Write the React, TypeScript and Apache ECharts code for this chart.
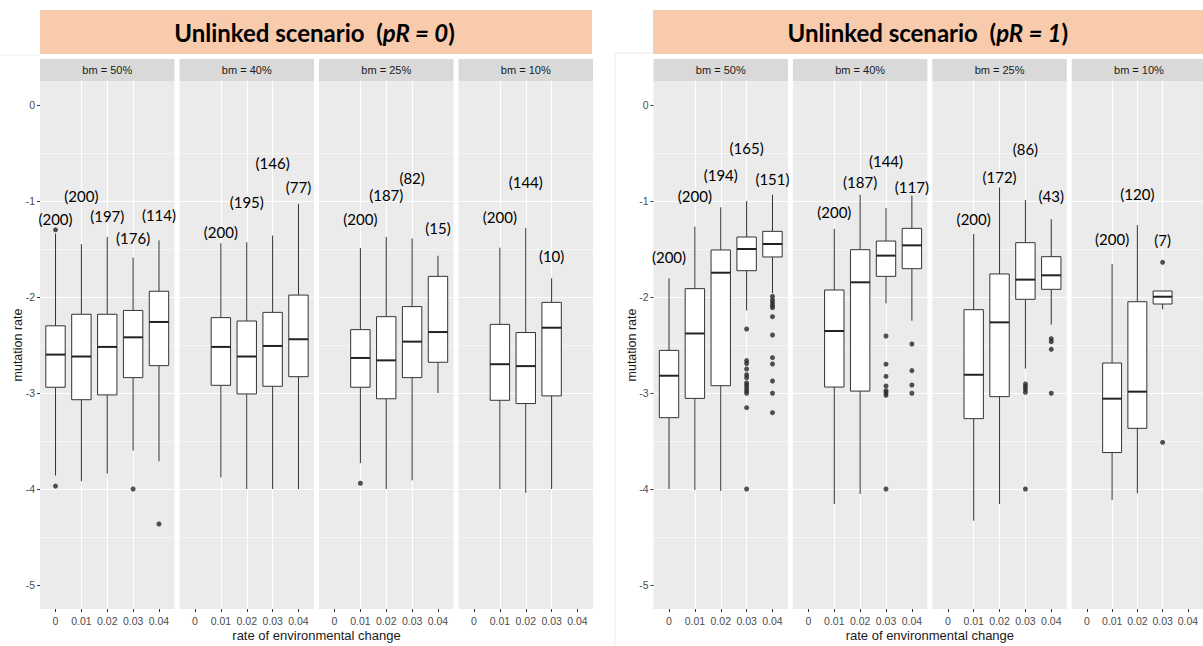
import React, { useEffect, useRef } from 'react';
import * as echarts from 'echarts';

// ---------- data ----------
const CATEGORIES = ['0', '0.01', '0.02', '0.03', '0.04'];
const FACETS = ['bm = 50%', 'bm = 40%', 'bm = 25%', 'bm = 10%'];
const SCENARIO_PR = ['0', '1'];
const Y_TICKS = [-5, -4, -3, -2, -1, 0];
const X_TICKS = [0, 1, 2, 3, 4];

// box stats: [categoryIndex, lowerWhisker, Q1, median, Q3, upperWhisker]
const pr0_bm50_boxes = [
  [0, -3.86, -2.94, -2.6, -2.3, -1.34],
  [1, -3.92, -3.07, -2.62, -2.18, -1.45],
  [2, -3.84, -3.02, -2.52, -2.18, -1.375],
  [3, -3.6, -2.84, -2.42, -2.14, -1.59],
  [4, -3.71, -2.715, -2.26, -1.94, -1.41],
];
const pr0_bm50_outliers = [[0, -1.3], [0, -3.97], [3, -4.0], [4, -4.365]];
const pr0_bm50_counts = [[0, -1.19, 200], [1, -0.944, 200], [2, -1.16, 197], [3, -1.39, 176], [4, -1.146, 114]];

const pr0_bm40_boxes = [
  [1, -3.88, -2.92, -2.52, -2.215, -1.44],
  [2, -4.0, -3.01, -2.62, -2.25, -1.43],
  [3, -4.0, -2.93, -2.51, -2.16, -1.36],
  [4, -4.0, -2.83, -2.44, -1.98, -1.03],
];
const pr0_bm40_outliers: number[][] = [];
const pr0_bm40_counts = [[1, -1.32, 200], [2, -1.007, 195], [3, -0.6, 146], [4, -0.85, 77]];

const pr0_bm25_boxes = [
  [1, -3.73, -2.94, -2.635, -2.34, -1.49],
  [2, -4.0, -3.06, -2.66, -2.205, -1.375],
  [3, -3.91, -2.84, -2.465, -2.1, -1.39],
  [4, -3.0, -2.68, -2.365, -1.785, -1.57],
];
const pr0_bm25_outliers = [[1, -3.94]];
const pr0_bm25_counts = [[1, -1.19, 200], [2, -0.94, 187], [3, -0.76, 82], [4, -1.285, 15]];

const pr0_bm10_boxes = [
  [1, -4.0, -3.076, -2.7, -2.285, -1.486],
  [2, -4.04, -3.11, -2.72, -2.37, -1.28],
  [3, -4.0, -3.03, -2.32, -2.056, -1.805],
];
const pr0_bm10_outliers: number[][] = [];
const pr0_bm10_counts = [[1, -1.163, 200], [2, -0.806, 144], [3, -1.57, 10]];

const pr1_bm50_boxes = [
  [0, -4.0, -3.257, -2.82, -2.556, -1.806],
  [1, -4.01, -3.056, -2.38, -1.913, -1.267],
  [2, -4.02, -2.924, -1.747, -1.51, -1.066],
  [3, -2.14, -1.726, -1.5, -1.375, -1.0],
  [4, -1.96, -1.583, -1.448, -1.316, -0.934],
];
const pr1_bm50_outliers = [
  [3, -2.333], [3, -2.663], [3, -2.694], [3, -2.75], [3, -2.81], [3, -2.84], [3, -2.896],
  [3, -2.92], [3, -2.948], [3, -2.976], [3, -3.003], [3, -3.153], [3, -4.0],
  [4, -1.993], [4, -2.031], [4, -2.059], [4, -2.087], [4, -2.111], [4, -2.205], [4, -2.396],
  [4, -2.632], [4, -2.698], [4, -2.875], [4, -3.003], [4, -3.205],
];
const pr1_bm50_counts = [[0, -1.587, 200], [1, -0.944, 200], [2, -0.73, 194], [3, -0.45, 165], [4, -0.77, 151]];

const pr1_bm40_boxes = [
  [1, -4.156, -2.938, -2.354, -1.927, -1.29],
  [2, -4.052, -2.98, -1.847, -1.507, -0.934],
  [3, -2.066, -1.785, -1.569, -1.417, -1.073],
  [4, -2.247, -1.705, -1.462, -1.285, -0.944],
];
const pr1_bm40_outliers = [
  [3, -2.406], [3, -2.7], [3, -2.826], [3, -2.927], [3, -2.976], [3, -2.997], [3, -3.024], [3, -4.0],
  [4, -2.49], [4, -2.767], [4, -2.917], [4, -3.003],
];
const pr1_bm40_counts = [[1, -1.11, 200], [2, -0.806, 187], [3, -0.587, 144], [4, -0.85, 117]];

const pr1_bm25_boxes = [
  [1, -4.33, -3.267, -2.81, -2.132, -1.344],
  [2, -4.156, -3.038, -2.264, -1.76, -0.86],
  [3, -2.746, -2.024, -1.819, -1.434, -0.99],
  [4, -2.288, -1.92, -1.774, -1.58, -1.19],
];
const pr1_bm25_outliers = [
  [3, -2.906], [3, -2.934], [3, -2.962], [3, -2.993], [3, -4.0],
  [4, -2.434], [4, -2.465], [4, -2.545], [4, -3.003],
];
const pr1_bm25_counts = [[1, -1.19, 200], [2, -0.753, 172], [3, -0.462, 86], [4, -0.948, 43]];

const pr1_bm10_boxes = [
  [1, -4.115, -3.62, -3.059, -2.6875, -1.656],
  [2, -4.045, -3.368, -2.986, -2.049, -1.25],
  [3, -2.128, -2.073, -1.997, -1.9375, -1.9375],
];
const pr1_bm10_outliers = [[3, -1.639], [3, -3.514]];
const pr1_bm10_counts = [[1, -1.396, 200], [2, -0.927, 120], [3, -1.406, 7]];

const BOXES = [
  [pr0_bm50_boxes, pr0_bm40_boxes, pr0_bm25_boxes, pr0_bm10_boxes],
  [pr1_bm50_boxes, pr1_bm40_boxes, pr1_bm25_boxes, pr1_bm10_boxes],
];
const OUTLIERS = [
  [pr0_bm50_outliers, pr0_bm40_outliers, pr0_bm25_outliers, pr0_bm10_outliers],
  [pr1_bm50_outliers, pr1_bm40_outliers, pr1_bm25_outliers, pr1_bm10_outliers],
];
const COUNTS = [
  [pr0_bm50_counts, pr0_bm40_counts, pr0_bm25_counts, pr0_bm10_counts],
  [pr1_bm50_counts, pr1_bm40_counts, pr1_bm25_counts, pr1_bm10_counts],
];

// ---------- layout ----------
const PANEL_LEFT = [40, 653.5];
const PANEL_STEP = [139.5, 139.4];
const PANEL_W = 134.5;
const PANEL_TOP = 81;
const PANEL_H = 528;
const STRIP_TOP = 59;
const BANNER = [
  { x: 40, w: 552 },
  { x: 653, w: 552 },
];

const AXIS_FONT = 'Liberation Sans, Arial, sans-serif';
const LABEL_FONT = 'Lato, "Open Sans", sans-serif';

function isIntLike(v: number) {
  return Math.abs(v - Math.round(v)) < 1e-6;
}

function renderBox(params: any, api: any) {
  const x = api.value(0);
  const lo = api.coord([x, api.value(1)]);
  const q1 = api.coord([x, api.value(2)]);
  const md = api.coord([x, api.value(3)]);
  const q3 = api.coord([x, api.value(4)]);
  const hi = api.coord([x, api.value(5)]);
  const w = api.size([0.75, 0])[0];
  const stroke = '#333333';
  const children: any[] = [];
  if (lo[1] - q1[1] > 0.3) {
    children.push({ type: 'line', shape: { x1: lo[0], y1: q1[1], x2: lo[0], y2: lo[1] }, style: { stroke, lineWidth: 1 } });
  }
  if (q3[1] - hi[1] > 0.3) {
    children.push({ type: 'line', shape: { x1: hi[0], y1: hi[1], x2: hi[0], y2: q3[1] }, style: { stroke, lineWidth: 1 } });
  }
  children.push({
    type: 'rect',
    shape: { x: q3[0] - w / 2, y: q3[1], width: w, height: q1[1] - q3[1] },
    style: { fill: '#ffffff', stroke, lineWidth: 1 },
  });
  children.push({
    type: 'line',
    shape: { x1: md[0] - w / 2, y1: md[1], x2: md[0] + w / 2, y2: md[1] },
    style: { stroke: '#222222', lineWidth: 2 },
  });
  return { type: 'group', children };
}

function buildOption() {
  const grid: any[] = [];
  const xAxis: any[] = [];
  const yAxis: any[] = [];
  const series: any[] = [];
  const graphic: any[] = [];

  for (let s = 0; s < 2; s++) {
    // banner
    graphic.push({
      type: 'rect',
      shape: { x: BANNER[s].x, y: 10, width: BANNER[s].w, height: 44 },
      style: { fill: '#F8CBAD' },
      silent: true,
    });
    const bannerFont = { fontFamily: 'Lato', fontWeight: 'bold', fontSize: 24, fill: '#000', color: '#000' };
    graphic.push({
      type: 'text',
      x: PANEL_LEFT[s] + (PANEL_STEP[s] * 3 + PANEL_W) / 2 - 2,
      y: 32,
      style: {
        text: '{n|Unlinked scenario  (}{i|pR = ' + SCENARIO_PR[s] + '}{n|)}',
        rich: {
          n: { ...bannerFont },
          i: { ...bannerFont, fontStyle: 'italic' },
        },
        align: 'center',
        verticalAlign: 'middle',
        textAlign: 'center',
        textVerticalAlign: 'middle',
      },
      silent: true,
    });

    // axis titles
    graphic.push({
      type: 'text',
      x: PANEL_LEFT[s] + (PANEL_STEP[s] * 3 + PANEL_W) / 2,
      y: 635,
      style: {
        text: 'rate of environmental change',
        font: '13px ' + AXIS_FONT,
        fill: '#1A1A1A',
        align: 'center', verticalAlign: 'middle', textAlign: 'center', textVerticalAlign: 'middle',
      },
      silent: true,
    });
    graphic.push({
      type: 'text',
      x: PANEL_LEFT[s] - 22,
      y: PANEL_TOP + PANEL_H / 2,
      rotation: Math.PI / 2,
      style: {
        text: 'mutation rate',
        font: '12.5px ' + AXIS_FONT,
        fill: '#1A1A1A',
        align: 'center', verticalAlign: 'middle', textAlign: 'center', textVerticalAlign: 'middle',
      },
      silent: true,
    });

    for (let f = 0; f < 4; f++) {
      const idx = s * 4 + f;
      const left = PANEL_LEFT[s] + f * PANEL_STEP[s];
      const first = f === 0;

      // strip
      graphic.push({
        type: 'rect',
        shape: { x: left, y: STRIP_TOP, width: PANEL_W, height: PANEL_TOP - STRIP_TOP },
        style: { fill: '#D9D9D9' },
        silent: true,
      });
      graphic.push({
        type: 'text',
        x: left + PANEL_W / 2,
        y: (STRIP_TOP + PANEL_TOP) / 2,
        style: {
          text: FACETS[f],
          font: '11px ' + AXIS_FONT,
          fill: '#1A1A1A',
          align: 'center', verticalAlign: 'middle', textAlign: 'center', textVerticalAlign: 'middle',
        },
        silent: true,
      });

      grid.push({
        left,
        top: PANEL_TOP,
        width: PANEL_W,
        height: PANEL_H,
        show: true,
        backgroundColor: '#EBEBEB',
        borderWidth: 0,
        containLabel: false,
      });
      xAxis.push({
        type: 'value',
        gridIndex: idx,
        position: 'bottom',
        min: -0.6,
        max: 4.6,
        axisLine: { show: false, onZero: false },
        axisTick: { show: true, length: 3, lineStyle: { color: '#333333', width: 1 }, customValues: X_TICKS },
        axisLabel: {
          show: true,
          customValues: X_TICKS,
          margin: 6,
          color: '#4D4D4D',
          fontSize: 10.5,
          fontFamily: AXIS_FONT,
          formatter: (v: number) => (isIntLike(v) && CATEGORIES[Math.round(v)] !== undefined ? CATEGORIES[Math.round(v)] : ''),
        },
        splitLine: { show: true, showMinLine: false, showMaxLine: false, lineStyle: { color: '#FFFFFF', width: 1.1 } },
      });
      yAxis.push({
        type: 'value',
        gridIndex: idx,
        position: 'left',
        min: -5.25,
        max: 0.25,
        axisLine: { show: false, onZero: false },
        axisTick: { show: first, length: 3, lineStyle: { color: '#333333', width: 1 }, customValues: Y_TICKS },
        axisLabel: {
          show: first,
          customValues: Y_TICKS,
          margin: 5,
          color: '#4D4D4D',
          fontSize: 10.5,
          fontFamily: AXIS_FONT,
          formatter: (v: number) => (isIntLike(v) ? String(Math.round(v)) : ''),
        },
        splitLine: { show: true, showMinLine: false, showMaxLine: false, lineStyle: { color: '#FFFFFF', width: 1.1 } },
        minorTick: { show: false, splitNumber: 2 },
        minorSplitLine: { show: true, lineStyle: { color: '#FFFFFF', width: 0.55 } },
      });

      series.push({
        type: 'custom',
        xAxisIndex: idx,
        yAxisIndex: idx,
        renderItem: renderBox,
        encode: { x: 0, y: [1, 2, 3, 4, 5] },
        data: BOXES[s][f],
        z: 2,
        silent: true,
      });
      series.push({
        type: 'scatter',
        xAxisIndex: idx,
        yAxisIndex: idx,
        data: OUTLIERS[s][f],
        symbol: 'circle',
        symbolSize: 5,
        itemStyle: { color: '#262626' },
        z: 3,
        silent: true,
      });
      series.push({
        type: 'scatter',
        xAxisIndex: idx,
        yAxisIndex: idx,
        data: COUNTS[s][f],
        symbol: 'circle',
        symbolSize: 1,
        itemStyle: { color: 'rgba(0,0,0,0)' },
        label: {
          show: true,
          position: 'inside',
          formatter: (p: any) => '(' + p.value[2] + ')',
          color: '#000000',
          opacity: 1,
          fontSize: 15,
          fontFamily: LABEL_FONT,
        },
        labelLayout: { hideOverlap: false },
        z: 4,
        silent: true,
      });
    }
  }

  // faint image borders
  graphic.push({
    type: 'polyline',
    shape: { points: [[615, 646], [615, 53], [653, 53]] },
    style: { stroke: '#EAEAEA', lineWidth: 1, fill: null },
    silent: true,
  });
  graphic.push({
    type: 'line',
    shape: { x1: 0, y1: 55, x2: 40, y2: 55 },
    style: { stroke: '#EFEFEF', lineWidth: 1 },
    silent: true,
  });

  return {
    animation: false,
    backgroundColor: '#FFFFFF',
    grid,
    xAxis,
    yAxis,
    series,
    graphic,
  };
}

export default function App() {
  const ref = useRef<HTMLDivElement>(null);
  useEffect(() => {
    if (!ref.current) return;
    const chart = echarts.init(ref.current, undefined, { renderer: 'svg' });
    chart.setOption(buildOption() as any);
    return () => chart.dispose();
  }, []);
  return (
    <div
      ref={ref}
      style={{ position: 'absolute', left: 0, top: 0, width: 1203, height: 646 }}
    />
  );
}
